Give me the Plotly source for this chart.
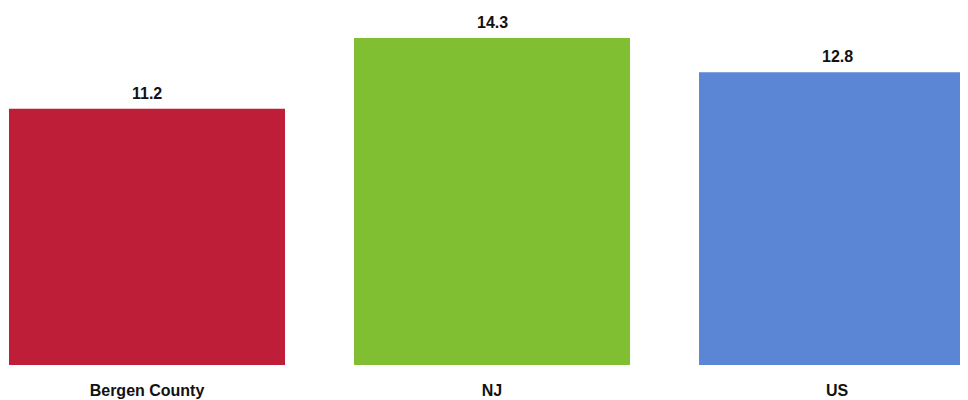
import plotly.graph_objects as go

categories = ["Bergen County", "NJ", "US"]
values = [11.2, 14.3, 12.8]
colors = ["#BE1E37", "#80BE32", "#5B86D6"]
value_labels = ["11.2", "14.3", "12.8"]

FONT = "Liberation Sans, Arial, sans-serif"

fig = go.Figure(go.Bar(
    x=categories, y=values, marker=dict(color=colors, line=dict(width=0)),
    hoverinfo="skip",
))

for c, v, t in zip(categories, values, value_labels):
    fig.add_annotation(x=c, y=v, text=f"<b>{t}</b>", showarrow=False,
                       yanchor="bottom", yshift=5,
                       font=dict(family=FONT, size=16, color="#111111"))

fig.update_layout(
    width=976, height=400,
    margin=dict(l=0, r=0, t=0, b=43),
    paper_bgcolor="white", plot_bgcolor="white",
    bargap=0.2, showlegend=False,
    font=dict(family=FONT, size=16, color="#111111"),
)
fig.update_xaxes(range=[-0.4029, 2.426], showgrid=False, zeroline=False,
                 showline=False, ticks="", tickfont=dict(family=FONT, size=16),
                 ticklabelstandoff=14,
                 tickvals=categories, ticktext=[f"<b>{c}</b>" for c in categories])
fig.update_yaxes(range=[0, 15.61], showgrid=False, zeroline=False,
                 showticklabels=False, showline=False)

fig.write_html("out.html")
